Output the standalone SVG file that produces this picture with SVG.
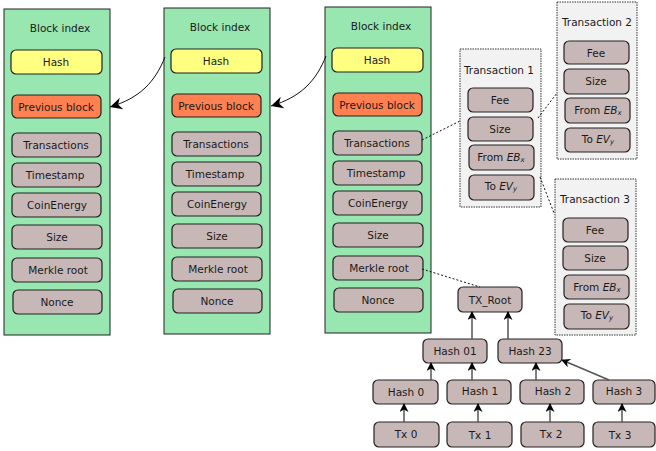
<svg xmlns="http://www.w3.org/2000/svg" width="656" height="451" viewBox="0 0 656 451">
<style>
text{font-family:"DejaVu Sans","Liberation Sans",sans-serif;font-size:10.5px;fill:#1a1a1a;text-anchor:middle;dominant-baseline:central}
.blk{fill:#98e6b0;stroke:#222;stroke-width:1}
.f{fill:#c8b7b7;stroke:#222;stroke-width:1.2}
.h{fill:#ffff80;stroke:#222;stroke-width:1.2}
.p{fill:#ff8050;stroke:#222;stroke-width:1.2}
.tx{fill:#f2f2f2;stroke:#333;stroke-width:1;stroke-dasharray:1.5 1}
.dot{fill:none;stroke:#111;stroke-width:1;stroke-dasharray:2 2}
.ar{fill:none;stroke:#555;stroke-width:1.5}
.cv{fill:none;stroke:#111;stroke-width:1}
.it{font-style:italic}
.sub{font-size:7px}
</style>
<defs>
<marker id="ah" viewBox="0 0 10 10" refX="9" refY="5" markerWidth="10" markerHeight="9" markerUnits="userSpaceOnUse" orient="auto"><path d="M0,0 L10,5 L0,10 L3,5 z" fill="#000"/></marker>
<marker id="ah2" viewBox="0 0 10 10" refX="10" refY="5" markerWidth="12" markerHeight="12" markerUnits="userSpaceOnUse" orient="auto"><path d="M0,0 L10,5 L0,10 L3,5 z" fill="#000"/></marker>
</defs>

<g id="block1" transform="translate(4,9)">
<rect class="blk" x="0" y="0" width="106" height="326"/>
<text x="56" y="19">Block index</text>
<rect class="h" x="7" y="41" width="91" height="24" rx="5"/><text x="52" y="53">Hash</text>
<rect class="p" x="8" y="86" width="89" height="23" rx="5"/><text x="52" y="97.5">Previous block</text>
<rect class="f" x="8" y="124" width="89" height="24" rx="5"/><text x="52" y="136">Transactions</text>
<rect class="f" x="8" y="154" width="89" height="24" rx="5"/><text x="51" y="166">Timestamp</text>
<rect class="f" x="8" y="184" width="89" height="24" rx="5"/><text x="53" y="196">CoinEnergy</text>
<rect class="f" x="8" y="216" width="90" height="24" rx="5"/><text x="53" y="228">Size</text>
<rect class="f" x="8" y="249" width="90" height="24" rx="5"/><text x="54" y="261">Merkle root</text>
<rect class="f" x="9" y="281" width="89" height="24" rx="5"/><text x="53" y="293">Nonce</text>
</g>

<g id="block2" transform="translate(164,8)">
<rect class="blk" x="0" y="0" width="106" height="326"/>
<text x="56" y="19">Block index</text>
<rect class="h" x="7" y="41" width="91" height="24" rx="5"/><text x="52" y="53">Hash</text>
<rect class="p" x="8" y="86" width="89" height="23" rx="5"/><text x="52" y="97.5">Previous block</text>
<rect class="f" x="8" y="124" width="89" height="24" rx="5"/><text x="52" y="136">Transactions</text>
<rect class="f" x="8" y="154" width="89" height="24" rx="5"/><text x="51" y="166">Timestamp</text>
<rect class="f" x="8" y="184" width="89" height="24" rx="5"/><text x="53" y="196">CoinEnergy</text>
<rect class="f" x="8" y="216" width="90" height="24" rx="5"/><text x="53" y="228">Size</text>
<rect class="f" x="8" y="249" width="90" height="24" rx="5"/><text x="54" y="261">Merkle root</text>
<rect class="f" x="9" y="281" width="89" height="24" rx="5"/><text x="53" y="293">Nonce</text>
</g>

<g id="block3" transform="translate(325,7)">
<rect class="blk" x="0" y="0" width="106" height="326"/>
<text x="56" y="19">Block index</text>
<rect class="h" x="7" y="41" width="91" height="24" rx="5"/><text x="52" y="53">Hash</text>
<rect class="p" x="8" y="86" width="89" height="23" rx="5"/><text x="52" y="97.5">Previous block</text>
<rect class="f" x="8" y="124" width="89" height="24" rx="5"/><text x="52" y="136">Transactions</text>
<rect class="f" x="8" y="154" width="89" height="24" rx="5"/><text x="51" y="166">Timestamp</text>
<rect class="f" x="8" y="184" width="89" height="24" rx="5"/><text x="53" y="196">CoinEnergy</text>
<rect class="f" x="8" y="216" width="90" height="24" rx="5"/><text x="53" y="228">Size</text>
<rect class="f" x="8" y="249" width="90" height="24" rx="5"/><text x="54" y="261">Merkle root</text>
<rect class="f" x="9" y="281" width="89" height="24" rx="5"/><text x="53" y="293">Nonce</text>
</g>

<g id="transaction1">
<rect class="tx" x="460" y="49" width="81" height="158"/>
<text x="499" y="70">Transaction 1</text>
<rect class="f" x="468" y="88" width="65" height="24" rx="5"/><text x="500" y="100">Fee</text>
<rect class="f" x="468" y="117" width="65" height="24" rx="5"/><text x="500" y="129">Size</text>
<rect class="f" x="469" y="145" width="65" height="25" rx="5"/><text x="501" y="157">From <tspan class="it">EB</tspan><tspan class="it sub" dy="3">x</tspan></text>
<rect class="f" x="469" y="175" width="65" height="25" rx="5"/><text x="501" y="186">To <tspan class="it">EV</tspan><tspan class="it sub" dy="3">y</tspan></text>
</g>

<g id="transaction2">
<rect class="tx" x="557" y="2" width="80" height="157"/>
<text x="597" y="22">Transaction 2</text>
<rect class="f" x="564" y="41" width="65" height="23" rx="5"/><text x="596" y="52.5">Fee</text>
<rect class="f" x="564" y="69" width="65" height="25" rx="5"/><text x="596" y="81">Size</text>
<rect class="f" x="565" y="98" width="65" height="25" rx="5"/><text x="598" y="110">From <tspan class="it">EB</tspan><tspan class="it sub" dy="3">x</tspan></text>
<rect class="f" x="565" y="128" width="65" height="24" rx="5"/><text x="598" y="139">To <tspan class="it">EV</tspan><tspan class="it sub" dy="3">y</tspan></text>
</g>

<g id="transaction3">
<rect class="tx" x="555" y="179" width="81" height="156"/>
<text x="595" y="199">Transaction 3</text>
<rect class="f" x="563" y="218" width="65" height="24" rx="5"/><text x="595" y="230">Fee</text>
<rect class="f" x="563" y="246" width="65" height="24" rx="5"/><text x="595" y="258">Size</text>
<rect class="f" x="564" y="275" width="65" height="24" rx="5"/><text x="597" y="287">From <tspan class="it">EB</tspan><tspan class="it sub" dy="3">x</tspan></text>
<rect class="f" x="564" y="304" width="65" height="25" rx="5"/><text x="597" y="315">To <tspan class="it">EV</tspan><tspan class="it sub" dy="3">y</tspan></text>
</g>

<g id="tx_root"><rect class="f" x="458" y="287" width="64" height="25" rx="5"/><text x="490" y="299.5">TX_Root</text></g>
<g id="hash01"><rect class="f" x="423" y="339" width="64" height="24" rx="5"/><text x="455" y="351">Hash 01</text></g>
<g id="hash23"><rect class="f" x="498" y="339" width="64" height="24" rx="5"/><text x="530" y="351">Hash 23</text></g>
<g id="hash0"><rect class="f" x="373" y="380" width="65" height="24" rx="5"/><text x="406" y="392">Hash 0</text></g>
<g id="hash1"><rect class="f" x="447" y="380" width="64" height="24" rx="5"/><text x="480" y="391">Hash 1</text></g>
<g id="hash2"><rect class="f" x="520" y="380" width="64" height="24" rx="5"/><text x="553" y="391">Hash 2</text></g>
<g id="hash3"><rect class="f" x="593" y="380" width="62" height="24" rx="5"/><text x="624" y="391">Hash 3</text></g>
<g id="tx0"><rect class="f" x="374" y="422" width="65" height="25" rx="5"/><text x="406" y="433.5">Tx 0</text></g>
<g id="tx1"><rect class="f" x="447" y="422" width="65" height="25" rx="5"/><text x="480" y="434.5">Tx 1</text></g>
<g id="tx2"><rect class="f" x="521" y="422" width="63" height="25" rx="5"/><text x="551" y="433.5">Tx 2</text></g>
<g id="tx3"><rect class="f" x="593" y="422" width="62" height="25" rx="5"/><text x="620" y="434.5">Tx 3</text></g>

<g id="connectors">
<path class="cv" d="M165,57 C155,82 140,98 110,107" marker-end="url(#ah2)"/>
<path class="cv" d="M326,56 C316,81 301,97 271,106" marker-end="url(#ah2)"/>
<path class="dot" d="M422,140 L460,121"/>
<path class="dot" d="M538,118 L557,93"/>
<path class="dot" d="M540,177 L554,213"/>
<path class="dot" d="M422,269 L480,287"/>
<path class="ar" d="M404,422 V404" marker-end="url(#ah)"/>
<path class="ar" d="M478,422 V404" marker-end="url(#ah)"/>
<path class="ar" d="M550,422 V404" marker-end="url(#ah)"/>
<path class="ar" d="M622,422 V404" marker-end="url(#ah)"/>
<path class="ar" d="M431,380 V363" marker-end="url(#ah)"/>
<path class="ar" d="M472,380 V363" marker-end="url(#ah)"/>
<path class="ar" d="M536,380 V363" marker-end="url(#ah)"/>
<path class="ar" d="M609,380 L562,360" marker-end="url(#ah)"/>
<path class="ar" d="M472,339 V312" marker-end="url(#ah)"/>
<path class="ar" d="M508,339 V312" marker-end="url(#ah)"/>
</g>
</svg>
